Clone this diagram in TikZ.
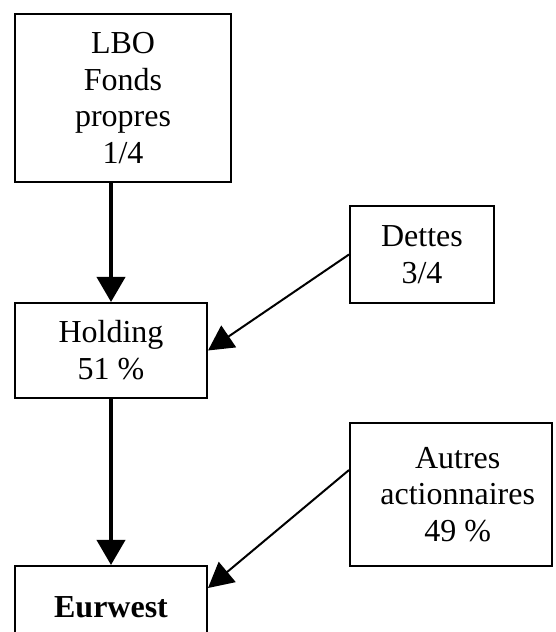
\documentclass[tikz,border=0pt]{standalone}
\usepackage{fontspec}
\setmainfont{Liberation Serif}
\usetikzlibrary{arrows.meta}
\usetikzlibrary{calc}
\usetikzlibrary{positioning}

\begin{document}
\begin{tikzpicture}[x=0.375pt, y=-0.375pt,
    box/.style={draw, line width=0.75pt, align=center, inner sep=0pt,
      font=\fontsize{12}{13.8}\selectfont},
    downarrow/.style={-{Triangle[length=9.4pt,width=10.5pt]}, line width=1.5pt},
    sidearrow/.style={-{Triangle[length=9.4pt,width=9.8pt]}, line width=0.75pt}]
        % Ownership structure of the LBO
        \useasboundingbox (0,0) rectangle (555,632);
        \node[box, minimum width=81pt, minimum height=63pt] (lbo) at (123,98) {LBO\\Fonds\\propres\\1/4};
        \node[box, minimum width=72pt, minimum height=35.6pt] (holding) at (111,350.5) {Holding\\51 \%};
        \node[box, minimum width=72pt, minimum height=30.75pt] (eurwest) at (111,607) {\textbf{Eurwest}};
        \node[box, minimum width=54pt, minimum height=36.4pt] (dettes) at (422,254.5) {Dettes\\3/4};
        \node[box, minimum width=75.75pt, minimum height=53.6pt] (autres) at (451,494.5)
            {\hspace*{5pt}Autres\\\hspace*{5pt}actionnaires\\\hspace*{5pt}49 \%};
        \draw[downarrow] (lbo.south -| holding.north) -- (holding.north);
        \draw[downarrow] (holding.south) -- (eurwest.north);
        \draw[sidearrow] (dettes.west) -- (holding.east);
        \draw[sidearrow] ($(autres.north west)+(0,48)$) -- ($(eurwest.north east)+(0,23)$);
    \end{tikzpicture}
\end{document}
